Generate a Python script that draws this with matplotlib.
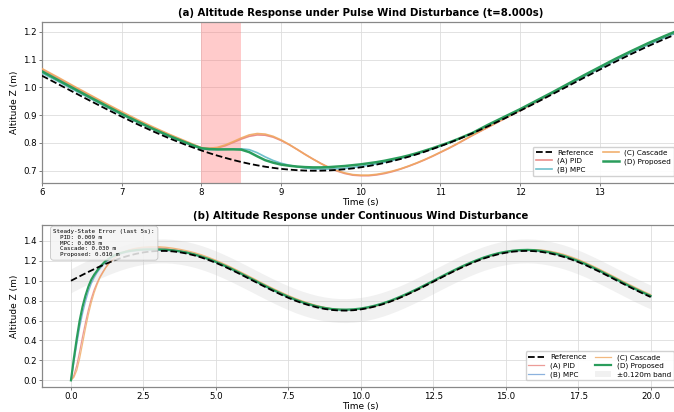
import matplotlib
matplotlib.use("Agg")
import matplotlib.pyplot as plt

# ---------------- Panel (a): pulse wind disturbance ----------------
t_a = [6.0, 6.2, 6.4, 6.6, 6.8, 7.0, 7.2, 7.4, 7.6, 7.8,
       7.9, 8.0, 8.1, 8.2, 8.3, 8.4, 8.5, 8.6, 8.7, 8.8, 8.9,
       9.0, 9.1, 9.2, 9.3, 9.4, 9.5, 9.6, 9.7, 9.8, 9.9,
       10.0, 10.1, 10.2, 10.3, 10.4, 10.5, 10.6, 10.7, 10.8, 10.9,
       11.0, 11.1, 11.2, 11.3, 11.4,
       11.6, 11.8, 12.0, 12.2, 12.4, 12.6, 12.8, 13.0, 13.2, 13.4, 13.6, 13.8, 14.0]

ref_a = [1.0423, 1.0125, 0.9825, 0.9527, 0.9234, 0.8948, 0.8672, 0.8411, 0.8164, 0.7937,
         0.7832, 0.7730, 0.7634, 0.7545, 0.7463, 0.7385, 0.7315, 0.7251, 0.7195, 0.7145, 0.7103,
         0.7067, 0.7040, 0.7019, 0.7006, 0.7000, 0.7002, 0.7011, 0.7029, 0.7053, 0.7084,
         0.7123, 0.7169, 0.7223, 0.7283, 0.7350, 0.7423, 0.7503, 0.7590, 0.7682, 0.7782,
         0.7884, 0.7992, 0.8106, 0.8226, 0.8348,
         0.8606, 0.8878, 0.9162, 0.9453, 0.9751, 1.0050, 1.0350, 1.0645, 1.0935, 1.1214, 1.1482, 1.1735, 1.1971]

pid_a = [1.064, 1.033, 1.002, 0.971, 0.940, 0.910, 0.881, 0.854, 0.829, 0.805,
         0.793, 0.782, 0.780, 0.782, 0.790, 0.802, 0.814, 0.824, 0.829, 0.828, 0.821,
         0.809, 0.794, 0.777, 0.759, 0.742, 0.726, 0.711, 0.699, 0.690, 0.684,
         0.682, 0.682, 0.685, 0.690, 0.697, 0.706, 0.716, 0.727, 0.739, 0.752,
         0.766, 0.780, 0.795, 0.811, 0.827,
         0.857, 0.887, 0.917, 0.947, 0.978, 1.009, 1.040, 1.070, 1.100, 1.128, 1.155, 1.180, 1.204]

mpc_a = [1.052, 1.022, 0.991, 0.961, 0.931, 0.902, 0.874, 0.848, 0.823, 0.800,
         0.789, 0.779, 0.776, 0.776, 0.777, 0.778, 0.779, 0.776, 0.765, 0.750, 0.737,
         0.727, 0.720, 0.714, 0.710, 0.707, 0.706, 0.706, 0.707, 0.709, 0.712,
         0.716, 0.720, 0.725, 0.731, 0.737, 0.744, 0.752, 0.760, 0.769, 0.779,
         0.789, 0.800, 0.811, 0.823, 0.835,
         0.864, 0.892, 0.920, 0.949, 0.979, 1.009, 1.039, 1.069, 1.098, 1.126, 1.153, 1.178, 1.202]

casc_a = [1.068, 1.037, 1.005, 0.974, 0.943, 0.913, 0.884, 0.857, 0.831, 0.807,
          0.795, 0.783, 0.781, 0.784, 0.793, 0.805, 0.818, 0.829, 0.834, 0.832, 0.824,
          0.811, 0.795, 0.777, 0.759, 0.742, 0.726, 0.712, 0.701, 0.692, 0.686,
          0.684, 0.684, 0.687, 0.692, 0.699, 0.707, 0.717, 0.728, 0.740, 0.753,
          0.767, 0.781, 0.796, 0.812, 0.828,
          0.858, 0.888, 0.918, 0.948, 0.979, 1.010, 1.041, 1.072, 1.102, 1.131, 1.158, 1.183, 1.206]

prop_a = [1.058, 1.027, 0.996, 0.965, 0.935, 0.905, 0.877, 0.850, 0.825, 0.802,
          0.791, 0.781, 0.778, 0.777, 0.777, 0.777, 0.776, 0.767, 0.752, 0.738, 0.729,
          0.722, 0.718, 0.715, 0.713, 0.712, 0.712, 0.713, 0.715, 0.717, 0.720,
          0.723, 0.727, 0.731, 0.736, 0.742, 0.748, 0.755, 0.763, 0.772, 0.781,
          0.791, 0.801, 0.812, 0.824, 0.836,
          0.866, 0.894, 0.922, 0.952, 0.982, 1.013, 1.044, 1.074, 1.104, 1.132, 1.159, 1.184, 1.208]

pulse_start, pulse_end = 8.0, 8.5

# ---------------- Panel (b): continuous wind disturbance ----------------
t_b = [0.0, 0.1, 0.2, 0.3, 0.4, 0.5, 0.6, 0.7, 0.8, 0.9, 1.0,
       1.1, 1.2, 1.3, 1.4, 1.5, 1.6, 1.7, 1.8, 1.9, 2.0,
       2.25, 2.5, 2.75, 3.0, 3.25, 3.5, 3.75, 4.0, 4.25, 4.5, 4.75, 5.0,
       5.25, 5.5, 5.75, 6.0, 6.25, 6.5, 6.75, 7.0, 7.25, 7.5, 7.75, 8.0,
       8.25, 8.5, 8.75, 9.0, 9.25, 9.5, 9.75, 10.0, 10.25, 10.5, 10.75, 11.0,
       11.25, 11.5, 11.75, 12.0, 12.25, 12.5, 12.75, 13.0, 13.25, 13.5, 13.75, 14.0,
       14.25, 14.5, 14.75, 15.0, 15.25, 15.5, 15.75, 16.0, 16.25, 16.5, 16.75, 17.0,
       17.25, 17.5, 17.75, 18.0, 18.25, 18.5, 18.75, 19.0, 19.25, 19.5, 19.75, 20.0]

ref_b = [1.0000, 1.0150, 1.0300, 1.0448, 1.0596, 1.0742, 1.0887, 1.1029, 1.1168, 1.1305, 1.1438,
         1.1568, 1.1694, 1.1816, 1.1933, 1.2045, 1.2152, 1.2254, 1.2350, 1.2440, 1.2524,
         1.2707, 1.2847, 1.2943, 1.2992, 1.2996, 1.2952, 1.2862, 1.2728, 1.2551, 1.2334, 1.2082, 1.1796,
         1.1481, 1.1145, 1.0791, 1.0423, 1.0050, 0.9675, 0.9306, 0.8948, 0.8605, 0.8285, 0.7986, 0.7730,
         0.7507, 0.7315, 0.7171, 0.7067, 0.7011, 0.7002, 0.7041, 0.7123, 0.7251, 0.7423, 0.7634, 0.7884,
         0.8165, 0.8475, 0.8809, 0.9162, 0.9529, 0.9900, 1.0275, 1.0645, 1.1005, 1.1350, 1.1672, 1.1971,
         1.2243, 1.2469, 1.2666, 1.2814, 1.2923, 1.2984, 1.3000, 1.2968, 1.2890, 1.2766, 1.2599, 1.2396,
         1.2154, 1.1879, 1.1576, 1.1236, 1.0889, 1.0523, 1.0149, 0.9774, 0.9404, 0.9043, 0.8697, 0.8368]

pid_b = [0.0, 0.05, 0.15, 0.29, 0.44, 0.58, 0.71, 0.82, 0.91, 0.98, 1.04,
         1.09, 1.135, 1.172, 1.203, 1.23, 1.252, 1.27, 1.285, 1.297, 1.307,
         1.322, 1.330, 1.333, 1.331, 1.325, 1.315, 1.303, 1.288, 1.270, 1.248, 1.223, 1.195,
         1.163, 1.130, 1.094, 1.057, 1.020, 0.982, 0.945, 0.909, 0.875, 0.843, 0.813, 0.787,
         0.764, 0.744, 0.728, 0.716, 0.709, 0.706, 0.708, 0.715, 0.727, 0.744, 0.765, 0.790,
         0.818, 0.849, 0.883, 0.918, 0.955, 0.992, 1.030, 1.067, 1.103, 1.138, 1.170, 1.200,
         1.227, 1.250, 1.270, 1.285, 1.297, 1.304, 1.307, 1.306, 1.300, 1.289, 1.273, 1.254,
         1.230, 1.203, 1.173, 1.139, 1.104, 1.067, 1.030, 0.992, 0.955, 0.919, 0.885, 0.852]

mpc_b = [0.0, 0.18, 0.36, 0.53, 0.67, 0.79, 0.89, 0.97, 1.03, 1.08, 1.12,
         1.155, 1.185, 1.21, 1.23, 1.245, 1.258, 1.268, 1.277, 1.284, 1.29,
         1.300, 1.306, 1.308, 1.307, 1.305, 1.300, 1.290, 1.277, 1.259, 1.237, 1.212, 1.184,
         1.152, 1.118, 1.083, 1.046, 1.009, 0.971, 0.934, 0.899, 0.864, 0.832, 0.802, 0.777,
         0.754, 0.735, 0.721, 0.710, 0.705, 0.704, 0.708, 0.716, 0.729, 0.746, 0.767, 0.792,
         0.820, 0.851, 0.885, 0.920, 0.957, 0.994, 1.031, 1.068, 1.104, 1.139, 1.171, 1.201,
         1.228, 1.251, 1.271, 1.285, 1.296, 1.302, 1.304, 1.301, 1.293, 1.281, 1.264, 1.244,
         1.219, 1.192, 1.162, 1.128, 1.093, 1.056, 1.019, 0.981, 0.944, 0.908, 0.874, 0.841]

casc_b = [0.0, 0.03, 0.10, 0.22, 0.37, 0.52, 0.66, 0.78, 0.88, 0.96, 1.03,
          1.08, 1.13, 1.17, 1.20, 1.23, 1.25, 1.27, 1.285, 1.298, 1.31,
          1.328, 1.338, 1.343, 1.342, 1.337, 1.328, 1.316, 1.301, 1.283, 1.261, 1.235, 1.206,
          1.174, 1.140, 1.104, 1.067, 1.030, 0.992, 0.955, 0.919, 0.885, 0.852, 0.822, 0.795,
          0.771, 0.750, 0.733, 0.720, 0.712, 0.708, 0.709, 0.715, 0.727, 0.743, 0.764, 0.789,
          0.817, 0.848, 0.881, 0.916, 0.953, 0.990, 1.028, 1.065, 1.101, 1.136, 1.169, 1.199,
          1.227, 1.250, 1.271, 1.287, 1.300, 1.308, 1.313, 1.313, 1.309, 1.299, 1.284, 1.265,
          1.241, 1.214, 1.183, 1.149, 1.114, 1.077, 1.040, 1.002, 0.965, 0.929, 0.894, 0.861]

prop_b = [0.0, 0.22, 0.42, 0.60, 0.74, 0.85, 0.94, 1.01, 1.06, 1.10, 1.14,
          1.17, 1.20, 1.22, 1.24, 1.255, 1.267, 1.277, 1.285, 1.292, 1.298,
          1.308, 1.314, 1.316, 1.315, 1.312, 1.306, 1.296, 1.283, 1.265, 1.243, 1.218, 1.190,
          1.158, 1.125, 1.089, 1.052, 1.015, 0.978, 0.941, 0.905, 0.871, 0.839, 0.809, 0.783,
          0.761, 0.741, 0.727, 0.716, 0.711, 0.710, 0.713, 0.721, 0.734, 0.751, 0.772, 0.797,
          0.826, 0.857, 0.890, 0.925, 0.962, 0.999, 1.037, 1.074, 1.110, 1.145, 1.177, 1.207,
          1.234, 1.257, 1.277, 1.291, 1.302, 1.308, 1.310, 1.307, 1.299, 1.287, 1.270, 1.250,
          1.225, 1.198, 1.168, 1.134, 1.099, 1.062, 1.025, 0.987, 0.950, 0.914, 0.880, 0.847]

band_half = 0.120
sse_labels = ["PID", "MPC", "Cascade", "Proposed"]
sse_values = [0.009, 0.003, 0.030, 0.010]

# ---------------- Styling ----------------
C_REF = "black"
C_PID = "#e8837e"
C_MPC = "#5fb9c6"
C_CASC = "#f0a860"
C_PROP = "#2a9d5c"

plt.rcParams["font.family"] = ["DejaVu Sans"]

fig = plt.figure(figsize=(6.74, 4.12), dpi=100)
ax1 = fig.add_axes([0.0623, 0.5560, 0.946, 0.3906])
ax2 = fig.add_axes([0.0623, 0.0600, 0.946, 0.3939])

for ax in (ax1, ax2):
    ax.grid(True, color="#dddddd", linewidth=0.6)
    ax.set_axisbelow(True)
    for s in ax.spines.values():
        s.set_color("#888888")
        s.set_linewidth(0.9)
    ax.tick_params(labelsize=6.2, length=2.0, width=0.6, color="#666666", pad=1.5)

# Panel (a)
ax1.axvspan(pulse_start, pulse_end, color="#ff6b6b", alpha=0.35, linewidth=0, zorder=1)
ax1.plot(t_a, ref_a, "--", color=C_REF, lw=1.3, label="Reference", zorder=6)
ax1.plot(t_a, pid_a, color=C_PID, lw=1.2, alpha=0.9, label="(A) PID", zorder=3)
ax1.plot(t_a, mpc_a, color=C_MPC, lw=1.2, alpha=0.9, label="(B) MPC", zorder=4)
ax1.plot(t_a, casc_a, color=C_CASC, lw=1.2, alpha=0.9, label="(C) Cascade", zorder=3)
ax1.plot(t_a, prop_a, color=C_PROP, lw=1.8, label="(D) Proposed", zorder=5)
ax1.set_xlim(6, 14)
ax1.set_ylim(0.656, 1.236)
ax1.set_xticks([6, 7, 8, 9, 10, 11, 12, 13])
ax1.set_yticks([0.7, 0.8, 0.9, 1.0, 1.1, 1.2])
ax1.set_xlabel("Time (s)", fontsize=6.5, labelpad=1)
ax1.set_ylabel("Altitude Z (m)", fontsize=6.5, labelpad=3)
ax1.set_title("(a) Altitude Response under Pulse Wind Disturbance (t=8.000s)",
              fontsize=7.3, fontweight="bold", pad=4)
ax1.legend(loc="lower right", ncol=2, fontsize=5.2, frameon=True, framealpha=0.9,
           edgecolor="#cccccc", handlelength=2.2, columnspacing=1.2, labelspacing=0.3,
           borderpad=0.4, bbox_to_anchor=(0.997, 0.02))

# Panel (b)
lo = [r - band_half for r in ref_b]
hi = [r + band_half for r in ref_b]
ax2.fill_between(t_b, lo, hi, color="#c8c8c8", alpha=0.25, linewidth=0,
                 label="±%.3fm band" % band_half, zorder=1)
ax2.plot(t_b, ref_b, "--", color=C_REF, lw=1.3, label="Reference", zorder=6)
ax2.plot(t_b, pid_b, color=C_PID, lw=0.9, alpha=0.8, label="(A) PID", zorder=3)
ax2.plot(t_b, mpc_b, color="#6f9fd6", lw=0.9, alpha=0.8, label="(B) MPC", zorder=4)
ax2.plot(t_b, casc_b, color=C_CASC, lw=0.9, alpha=0.8, label="(C) Cascade", zorder=3)
ax2.plot(t_b, prop_b, color=C_PROP, lw=1.6, label="(D) Proposed", zorder=5)
ax2.set_xlim(-1, 21)
ax2.set_ylim(-0.07, 1.56)
ax2.set_xticks([0, 2.5, 5, 7.5, 10, 12.5, 15, 17.5, 20])
ax2.set_yticks([0.0, 0.2, 0.4, 0.6, 0.8, 1.0, 1.2, 1.4])
ax2.set_xlabel("Time (s)", fontsize=6.5, labelpad=0.5)
ax2.set_ylabel("Altitude Z (m)", fontsize=6.5, labelpad=3)
ax2.set_title("(b) Altitude Response under Continuous Wind Disturbance",
              fontsize=7.3, fontweight="bold", pad=4)
handles, labels = ax2.get_legend_handles_labels()
order = ["Reference", "(A) PID", "(B) MPC", "(C) Cascade", "(D) Proposed", "±%.3fm band" % band_half]
hmap = dict(zip(labels, handles))
ax2.legend([hmap[k] for k in order], order, loc="lower right", ncol=2, fontsize=5.2,
           frameon=True, framealpha=0.9, edgecolor="#cccccc", handlelength=2.2,
           columnspacing=1.2, labelspacing=0.3, borderpad=0.4, bbox_to_anchor=(0.997, 0.02))

txt = "Steady-State Error (last 5s):\n" + "\n".join(
    "  %s: %.3f m" % (n, v) for n, v in zip(sse_labels, sse_values))
ax2.text(0.018, 0.975, txt, transform=ax2.transAxes, va="top", ha="left",
         fontsize=4.2, family="DejaVu Sans Mono", zorder=10,
         bbox=dict(boxstyle="round,pad=0.5", facecolor="#f4f4f4", edgecolor="#bbbbbb",
                   alpha=0.85, linewidth=0.6))

fig.savefig("out.png", dpi=100)
